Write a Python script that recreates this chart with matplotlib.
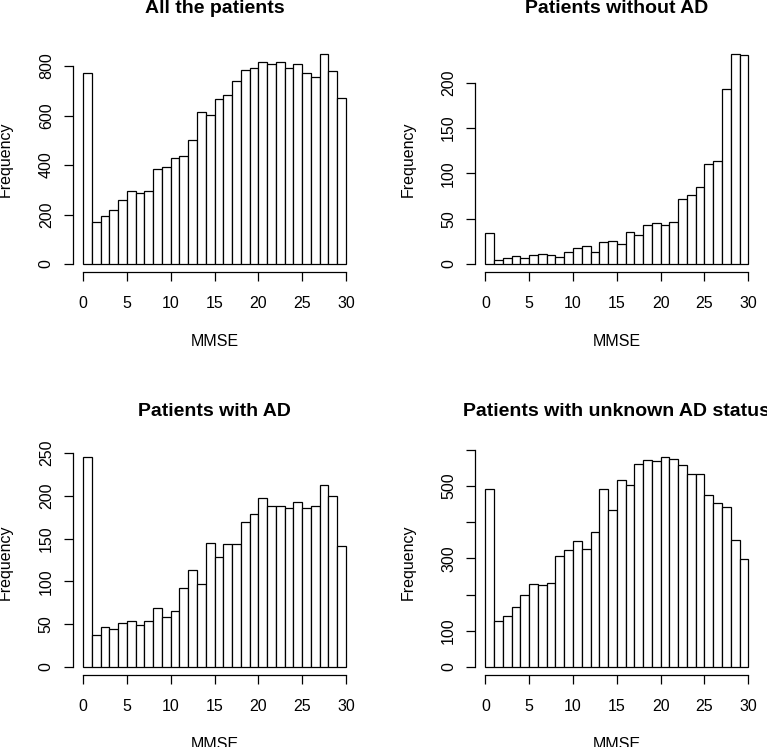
import matplotlib
matplotlib.use("Agg")
import matplotlib.pyplot as plt
import numpy as np

plt.rcParams['font.family'] = ['Liberation Sans', 'DejaVu Sans']

bin_edges = list(range(0, 31))

all_patients = [770, 168, 195, 220, 259, 294, 287, 296, 385, 393, 430, 438, 500, 615, 603,
                668, 684, 738, 785, 793, 818, 809, 818, 793, 809, 770, 757, 847, 781, 671]
without_ad = [34, 4, 7, 9, 7, 10, 11, 10, 8, 13, 18, 20, 13, 24, 25,
              22, 35, 32, 43, 45, 43, 46, 72, 76, 85, 110, 114, 193, 231, 230]
with_ad = [245, 37, 47, 44, 52, 54, 49, 54, 69, 58, 66, 92, 113, 97, 145,
           128, 144, 144, 170, 179, 197, 188, 188, 186, 193, 186, 188, 213, 200, 142]
unknown_ad = [492, 128, 141, 167, 200, 230, 227, 233, 308, 322, 347, 327, 373, 493, 433,
              517, 504, 561, 572, 569, 579, 575, 558, 532, 532, 475, 454, 442, 351, 299]

titles = ["All the patients", "Patients without AD", "Patients with AD",
          "Patients with unknown AD status"]
x_ticks = [0, 5, 10, 15, 20, 25, 30]
y_ticks = [[0, 200, 400, 600, 800], [0, 50, 100, 150, 200],
           [0, 50, 100, 150, 200, 250], [0, 100, 200, 300, 400, 500, 600]]
y_ticklabels = [["0", "200", "400", "600", "800"], ["0", "50", "100", "150", "200"],
                ["0", "50", "100", "150", "200", "250"],
                ["0", "100", "", "300", "", "500", ""]]
series = [all_patients, without_ad, with_ad, unknown_ad]

W, H = 767, 747
fig = plt.figure(figsize=(W / 100, H / 100), dpi=100)

lefts_px = [72.5, 474.8, 72.5, 474.8]
tops_px = [46.0, 46.0, 449.0, 449.0]
w_px, h_px = 284.0, 226.4

FS = 11.5
for i in range(4):
    l = lefts_px[i] / W
    b = 1 - (tops_px[i] + h_px) / H
    ax = fig.add_axes([l, b, w_px / W, h_px / H])
    vals = series[i]
    ymax = max(vals)
    ax.bar(bin_edges[:-1], vals, width=1, align='edge', color='white',
           edgecolor='black', linewidth=0.9)
    ax.set_xlim(-1.2, 31.2)
    ax.set_ylim(-0.04 * ymax, 1.04 * ymax)
    for s in ['top', 'right']:
        ax.spines[s].set_visible(False)
    ax.spines['left'].set_bounds(y_ticks[i][0], y_ticks[i][-1])
    ax.spines['bottom'].set_bounds(0, 30)
    ax.spines['left'].set_linewidth(0.9)
    ax.spines['bottom'].set_linewidth(0.9)
    ax.set_xticks(x_ticks)
    ax.set_xticklabels([str(t) for t in x_ticks], fontsize=FS)
    ax.set_yticks(y_ticks[i])
    ax.set_yticklabels(y_ticklabels[i], fontsize=FS)
    ax.tick_params(axis='x', length=6.5, width=0.9, pad=10.5, direction='out')
    ax.tick_params(axis='y', length=6.5, width=0.9, pad=7.0, direction='out')
    for lab in ax.get_yticklabels():
        lab.set_rotation(90)
        lab.set_va('center')
    ax.text(0.5, 1 + 33.0 / h_px, titles[i], transform=ax.transAxes, ha='center',
            va='baseline', fontsize=14, fontweight='bold')
    ax.text(0.5, -73.3 / h_px, "MMSE", transform=ax.transAxes, ha='center',
            va='baseline', fontsize=FS)
    ax.text(-62.5 / w_px, 0.5, "Frequency", transform=ax.transAxes, ha='center',
            va='baseline', rotation=90, rotation_mode='anchor', fontsize=FS)

fig.savefig("out.png", dpi=100, facecolor='white')
